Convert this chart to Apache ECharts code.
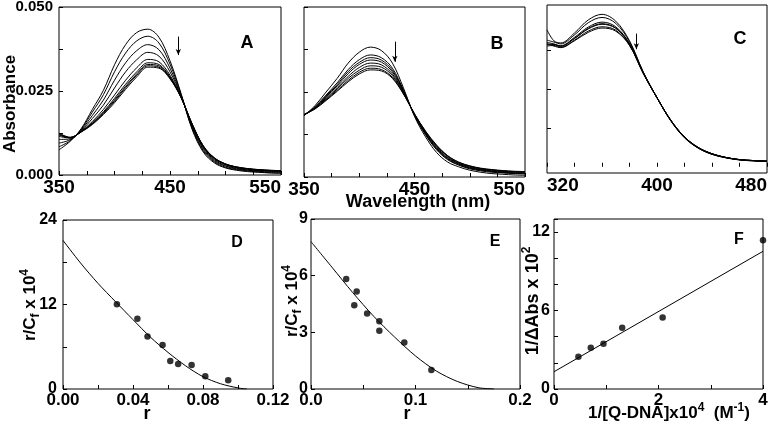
<!DOCTYPE html>
<html><head><meta charset="utf-8">
<script src="https://cdn.jsdelivr.net/npm/echarts@6/dist/echarts.min.js"></script>
<style>html,body{margin:0;padding:0;background:#fff}#c{width:777px;height:424px}</style>
</head><body><div id="c"></div>
<script>
// ---------- Panel A (350-550 nm) ----------
const wlA = [350,360,370,380,390,400,410,420,430,440,450,460,470,480,490,500,510,520,530,540,550];
const specA = [
 [0.0075,0.0100,0.0138,0.0195,0.0252,0.0328,0.0388,0.0424,0.0434,0.0410,0.0340,0.0242,0.0135,0.0068,0.0036,0.0021,0.0014,0.0010,0.0008,0.0006,0.0005],
 [0.0084,0.0102,0.0136,0.0187,0.0239,0.0307,0.0363,0.0399,0.0413,0.0393,0.0330,0.0240,0.0138,0.0072,0.0039,0.0023,0.0016,0.0012,0.0009,0.0007,0.0006],
 [0.0095,0.0105,0.0134,0.0177,0.0223,0.0282,0.0334,0.0370,0.0388,0.0373,0.0318,0.0237,0.0142,0.0076,0.0042,0.0026,0.0018,0.0014,0.0011,0.0009,0.0008],
 [0.0106,0.0107,0.0132,0.0168,0.0208,0.0259,0.0307,0.0343,0.0365,0.0354,0.0307,0.0235,0.0145,0.0080,0.0045,0.0028,0.0020,0.0015,0.0013,0.0011,0.0010],
 [0.0115,0.0110,0.0130,0.0159,0.0195,0.0238,0.0282,0.0319,0.0344,0.0337,0.0297,0.0232,0.0149,0.0083,0.0048,0.0031,0.0022,0.0017,0.0014,0.0012,0.0011],
 [0.0119,0.0111,0.0129,0.0155,0.0188,0.0228,0.0270,0.0307,0.0334,0.0329,0.0292,0.0231,0.0150,0.0085,0.0049,0.0032,0.0023,0.0018,0.0015,0.0013,0.0012],
 [0.0121,0.0111,0.0129,0.0153,0.0185,0.0223,0.0264,0.0301,0.0329,0.0325,0.0290,0.0231,0.0151,0.0086,0.0050,0.0032,0.0023,0.0018,0.0015,0.0013,0.0012],
 [0.0123,0.0112,0.0128,0.0152,0.0183,0.0219,0.0260,0.0297,0.0325,0.0321,0.0288,0.0230,0.0151,0.0086,0.0051,0.0033,0.0024,0.0019,0.0016,0.0014,0.0013],
 [0.0125,0.0112,0.0128,0.0150,0.0180,0.0215,0.0255,0.0292,0.0321,0.0318,0.0286,0.0230,0.0152,0.0087,0.0051,0.0033,0.0024,0.0019,0.0016,0.0014,0.0013]
];
const arrowA = [457.5, 0.0412, 0.0357];

// ---------- Panel B (350-550 nm) ----------
const wlB = [350,360,370,380,390,400,410,420,430,440,450,460,470,480,490,500,510,520,530,540,550];
const specB = [
 [0.0180,0.0210,0.0250,0.0290,0.0335,0.0367,0.0382,0.0372,0.0335,0.0262,0.0178,0.0118,0.0072,0.0044,0.0030,0.0020,0.0014,0.0010,0.0008,0.0006,0.0005],
 [0.0181,0.0207,0.0241,0.0277,0.0316,0.0345,0.0359,0.0351,0.0320,0.0256,0.0181,0.0124,0.0080,0.0051,0.0035,0.0024,0.0018,0.0014,0.0012,0.0010,0.0009],
 [0.0182,0.0205,0.0238,0.0272,0.0310,0.0337,0.0351,0.0344,0.0314,0.0254,0.0182,0.0126,0.0082,0.0053,0.0036,0.0026,0.0020,0.0016,0.0013,0.0011,0.0010],
 [0.0182,0.0204,0.0236,0.0268,0.0304,0.0331,0.0344,0.0338,0.0309,0.0252,0.0183,0.0128,0.0084,0.0055,0.0038,0.0027,0.0021,0.0017,0.0014,0.0012,0.0011],
 [0.0183,0.0203,0.0232,0.0263,0.0296,0.0322,0.0335,0.0330,0.0303,0.0249,0.0184,0.0130,0.0087,0.0057,0.0040,0.0029,0.0022,0.0018,0.0016,0.0014,0.0013],
 [0.0183,0.0202,0.0229,0.0259,0.0290,0.0314,0.0327,0.0323,0.0298,0.0247,0.0185,0.0132,0.0090,0.0060,0.0041,0.0031,0.0024,0.0020,0.0017,0.0015,0.0014],
 [0.0184,0.0201,0.0227,0.0255,0.0284,0.0308,0.0320,0.0316,0.0293,0.0245,0.0185,0.0134,0.0092,0.0062,0.0043,0.0032,0.0025,0.0021,0.0018,0.0016,0.0015],
 [0.0184,0.0200,0.0225,0.0252,0.0280,0.0303,0.0315,0.0312,0.0290,0.0244,0.0186,0.0135,0.0094,0.0063,0.0044,0.0033,0.0026,0.0022,0.0019,0.0017,0.0016]
];
const arrowB = [432.2, 0.0398, 0.0339];

// ---------- Panel C (320-480 nm) ----------
const wlC = [320,325,330,340,350,360,370,380,390,400,410,420,430,440,450,460,470,480];
const specC = [
 [0.0440,0.0405,0.0398,0.0430,0.0472,0.0490,0.0468,0.0405,0.0305,0.0222,0.0148,0.0093,0.0060,0.0040,0.0029,0.0022,0.0019,0.0017],
 [0.0407,0.0401,0.0395,0.0424,0.0463,0.0480,0.0461,0.0402,0.0304,0.0222,0.0148,0.0094,0.0060,0.0040,0.0029,0.0022,0.0019,0.0017],
 [0.0400,0.0395,0.0389,0.0416,0.0449,0.0465,0.0450,0.0396,0.0302,0.0222,0.0149,0.0095,0.0061,0.0041,0.0030,0.0023,0.0020,0.0018],
 [0.0395,0.0393,0.0388,0.0413,0.0445,0.0460,0.0446,0.0395,0.0302,0.0222,0.0149,0.0095,0.0061,0.0041,0.0030,0.0023,0.0020,0.0018],
 [0.0392,0.0393,0.0387,0.0412,0.0443,0.0458,0.0445,0.0394,0.0301,0.0222,0.0150,0.0096,0.0062,0.0042,0.0030,0.0023,0.0020,0.0018],
 [0.0388,0.0390,0.0384,0.0407,0.0436,0.0450,0.0439,0.0391,0.0300,0.0222,0.0150,0.0096,0.0062,0.0042,0.0030,0.0023,0.0020,0.0018],
 [0.0395,0.0388,0.0383,0.0405,0.0432,0.0446,0.0436,0.0390,0.0300,0.0222,0.0150,0.0096,0.0062,0.0042,0.0030,0.0023,0.0020,0.0018]
];
const arrowC = [385, 0.0428, 0.0378];

// ---------- Panel D (Scatchard) ----------
const ptsD_r = [0.0308,0.0425,0.0483,0.0569,0.0613,0.0658,0.0735,0.0813,0.0944];
const ptsD_y = [12.05,9.97,7.46,6.24,3.97,3.54,3.40,1.80,1.23];
const fitD_r = [0,0.01,0.02,0.03,0.04,0.05,0.06,0.07,0.08,0.09,0.10,0.105];
const fitD_y = [21.1,17.9,15.0,12.4,9.85,7.35,5.2,3.3,1.75,0.75,0.15,0];

// ---------- Panel E (Scatchard) ----------
const ptsE_r = [0.0337,0.0414,0.0437,0.0537,0.0654,0.0654,0.0893,0.1152];
const ptsE_y = [5.82,4.44,5.16,4.00,3.59,3.08,2.46,1.0];
const fitE_r = [0,0.02,0.04,0.06,0.08,0.10,0.12,0.14,0.16,0.175];
const fitE_y = [7.8,6.45,5.1,3.85,2.75,1.75,0.95,0.4,0.07,0];

// ---------- Panel F (double reciprocal) ----------
const ptsF_x = [0.467,0.704,0.947,1.305,2.079,4.0];
const ptsF_y = [2.47,3.16,3.46,4.68,5.47,11.37];
const fitF_x = [0,4];
const fitF_y = [1.32,10.53];

const FONT = '"Liberation Sans", Arial, sans-serif';
const near = (v, s) => Math.abs(v / s - Math.round(v / s)) < 1e-6;
const pair = (xs, ys) => xs.map((x, i) => [x, ys[i]]);

const chart = echarts.init(document.getElementById('c'), null, {renderer: 'canvas'});

const grids = [
  {left: 59, top: 7, width: 222, height: 168},
  {left: 304, top: 7, width: 221, height: 170},
  {left: 547, top: 5, width: 220, height: 168},
  {left: 63, top: 220, width: 210, height: 169},
  {left: 311, top: 219, width: 209, height: 170},
  {left: 554, top: 219, width: 209, height: 170}
].map(g => Object.assign({show: true, borderColor: '#000', borderWidth: 1, backgroundColor: 'transparent', containLabel: false, outerBoundsMode: 'none'}, g));

function ax(gi, min, max, interval, fmt, margin, size, extra) {
  const a = {
    type: 'value', gridIndex: gi, min: min, max: max,
    axisLine: {show: false}, splitLine: {show: false},
    axisTick: {show: true, inside: true, length: 4, lineStyle: {color: '#000', width: 1}},
    axisLabel: {show: !!fmt, formatter: fmt, margin: margin, color: '#000', fontSize: size, fontWeight: 'bold', fontFamily: FONT, hideOverlap: false}
  };
  if (interval != null) a.interval = interval;
  if (extra && extra.tick) Object.assign(a.axisTick, extra.tick);
  if (extra && extra.label) Object.assign(a.axisLabel, extra.label);
  return a;
}

const xAxis = [
  ax(0, 350, 550, 25, v => near(v - 350, 100) ? String(v) : '', 3, 19, {label: {alignMaxLabel: 'right'}}),
  ax(1, 350, 550, 25, v => near(v - 350, 100) ? String(v) : '', 3, 19, {label: {alignMaxLabel: 'right'}}),
  ax(2, 320, 480, 20, v => near(v - 320, 80) ? String(v) : '', 3, 19, {label: {alignMinLabel: 'left', alignMaxLabel: 'right'}}),
  ax(3, 0, 0.12, 0.02, v => near(v, 0.04) ? v.toFixed(2) : '', 3, 17),
  ax(4, 0, 0.2, 0.05, v => near(v, 0.1) ? v.toFixed(1) : '', 3, 17),
  ax(5, 0, 4, 1, v => near(v, 2) ? String(v) : '', 3, 17)
];
const yAxis = [
  ax(0, 0, 0.05, 0.0125, v => near(v, 0.025) ? v.toFixed(3) : '', 6, 15),
  ax(1, 0, 0.05, 0.0125, null, 6, 15),
  ax(2, -0.002, 0.052, null, null, 6, 15, {tick: {customValues: [0.0125, 0.025, 0.0375]}}),
  ax(3, 0, 24, 6, v => near(v, 12) ? String(v) : '', 6, 16),
  ax(4, 0, 9, 3, v => String(v), 3, 16),
  ax(5, 0, 13, 2, v => near(v, 6) ? String(v) : '', 4, 16)
];

const series = [];
function arrowML(a) {
  return {
    silent: true, symbol: ['none', 'arrow'], symbolSize: [4, 6], label: {show: false},
    lineStyle: {color: '#000', width: 1, type: 'solid'},
    data: [[{coord: [a[0], a[1]]}, {coord: [a[0], a[2]]}]]
  };
}
function addSpectra(idx, wl, spec, arrow) {
  spec.forEach((vals, k) => {
    const s = {
      type: 'line', xAxisIndex: idx, yAxisIndex: idx, data: pair(wl, vals),
      showSymbol: false, smooth: 0.35, silent: true, animation: false,
      lineStyle: {color: '#000', width: 1}
    };
    if (k === 0) s.markLine = arrowML(arrow);
    series.push(s);
  });
}
addSpectra(0, wlA, specA, arrowA);
addSpectra(1, wlB, specB, arrowB);
addSpectra(2, wlC, specC, arrowC);

function addFit(idx, xs, ys, px, py, smooth) {
  series.push({type: 'line', xAxisIndex: idx, yAxisIndex: idx, data: pair(xs, ys), showSymbol: false,
    smooth: smooth, silent: true, animation: false, lineStyle: {color: '#000', width: 1}});
  series.push({type: 'scatter', xAxisIndex: idx, yAxisIndex: idx, data: pair(px, py), symbolSize: 6.5,
    silent: true, animation: false, itemStyle: {color: '#000'}});
}
addFit(3, fitD_r, fitD_y, ptsD_r, ptsD_y, 0.3);
addFit(4, fitE_r, fitE_y, ptsE_r, ptsE_y, 0.3);
addFit(5, fitF_x, fitF_y, ptsF_x, ptsF_y, false);

function T(x, y, text, size, rot, rich) {
  const st = {text: text, font: 'bold ' + size + 'px ' + FONT, fill: '#000',
    textAlign: 'center', textVerticalAlign: 'middle', align: 'center', verticalAlign: 'middle'};
  if (rich) st.rich = rich;
  return {type: 'text', x: x, y: y, rotation: rot || 0, silent: true, style: st};
}
const richSS = size => ({
  n: {fontSize: size, fontWeight: 'bold', fontFamily: FONT, lineHeight: size + 6, verticalAlign: 'middle', fill: '#000', color: '#000'},
  s: {fontSize: Math.round(size * 0.68), fontWeight: 'bold', fontFamily: FONT, lineHeight: Math.round(size * 0.68), verticalAlign: 'bottom', fill: '#000', color: '#000'},
  p: {fontSize: Math.round(size * 0.68), fontWeight: 'bold', fontFamily: FONT, lineHeight: Math.round(size * 0.68), verticalAlign: 'top', fill: '#000', color: '#000'}
});
const R = Math.PI / 2;
const graphic = [
  T(10, 104, 'Absorbance', 17, R),
  T(418, 202, 'Wavelength (nm)', 18, 0),
  T(247, 43, 'A', 18), T(497, 44, 'B', 18), T(740, 39, 'C', 18),
  T(237, 243, 'D', 16), T(495, 242, 'E', 16), T(739, 240, 'F', 16),
  T(147, 414, 'r', 18), T(407, 414, 'r', 18),
  T(30, 305, '{n|r/C}{s|f}{n| x 10}{p|4}', 17, R, richSS(17)),
  T(292, 301, '{n|r/C}{s|f}{n| x 10}{p|4}', 17, R, richSS(17)),
  T(533, 301, '{n|1/\u0394Abs x 10}{p|2}', 18, R, richSS(18)),
  T(669, 413, '{n|1/[Q-DNA]x10}{p|4}{n|  (M}{p|-1}{n|)}', 17, 0, richSS(17))
];

chart.setOption({
  animation: false,
  backgroundColor: '#fff',
  grid: grids,
  xAxis: xAxis,
  yAxis: yAxis,
  series: series,
  graphic: graphic
});
</script>
</body></html>
